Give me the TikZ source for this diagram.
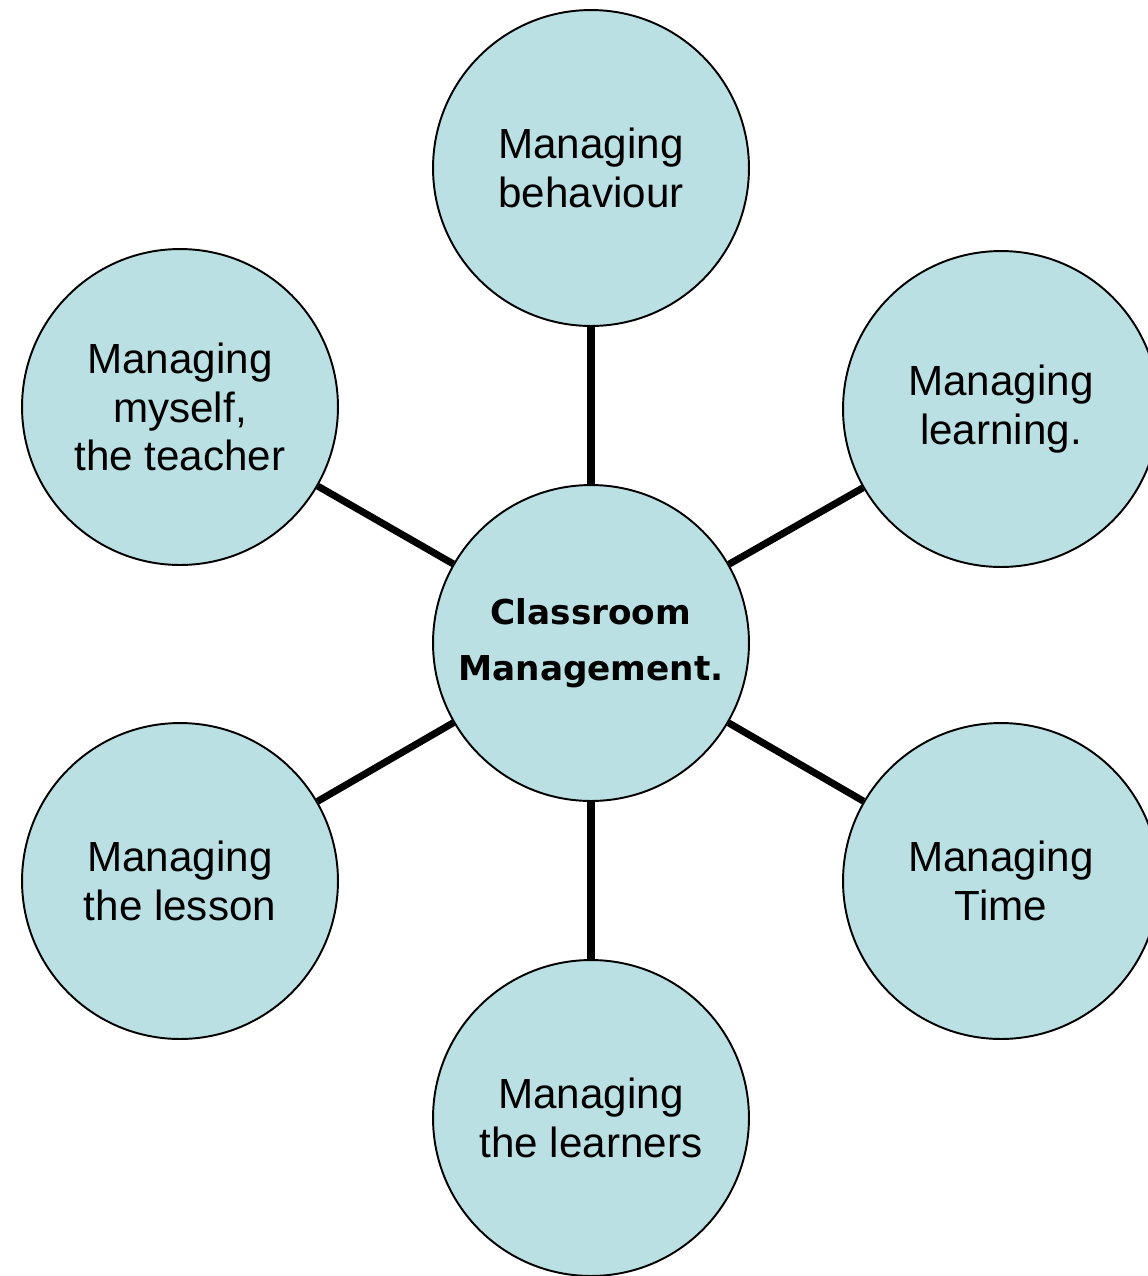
\documentclass[tikz,border=0pt]{standalone}
\usepackage{fontspec}
\setmainfont{Liberation Sans}
\newfontfamily\hubfont{DejaVu Sans}
\usepackage{xcolor}
\usepackage{tikz}
\definecolor{bubblefill}{RGB}{187, 224, 227}

\begin{document}
\begin{tikzpicture}[x=0.02cm, y=-0.02cm,
  bubble/.style={circle, draw=black, line width=1.1pt, fill=bubblefill,
    minimum size=6.32cm, inner sep=0pt, align=center,
    font=\fontsize{24}{27.5}\selectfont},
  hub/.style={bubble, font=\hubfont\bfseries\fontsize{19.5}{32}\selectfont},
  spoke/.style={line width=4pt}]
\useasboundingbox (0,0) rectangle (1148,1276);
% Spokes round the hub
\node[bubble] (behaviour) at (591,168) {Managing\\behaviour};
\node[bubble] (myself) at (180,407) {Managing\\myself,\\the teacher};
\node[bubble] (learning) at (1001,409) {Managing\\learning.};
\node[bubble] (lesson) at (180,881) {Managing\\the lesson};
\node[bubble] (time) at (1001,881) {Managing\\Time};
\node[bubble] (learners) at (591,1118) {Managing\\the learners};

% Hub
\node[hub] (hub) at (591,643) {Classroom\\Management.};

% Connectors
\draw[spoke] (hub) -- (behaviour);
\draw[spoke] (hub) -- (myself);
\draw[spoke] (hub) -- (learning);
\draw[spoke] (hub) -- (lesson);
\draw[spoke] (hub) -- (time);
\draw[spoke] (hub) -- (learners);
\end{tikzpicture}
\end{document}
